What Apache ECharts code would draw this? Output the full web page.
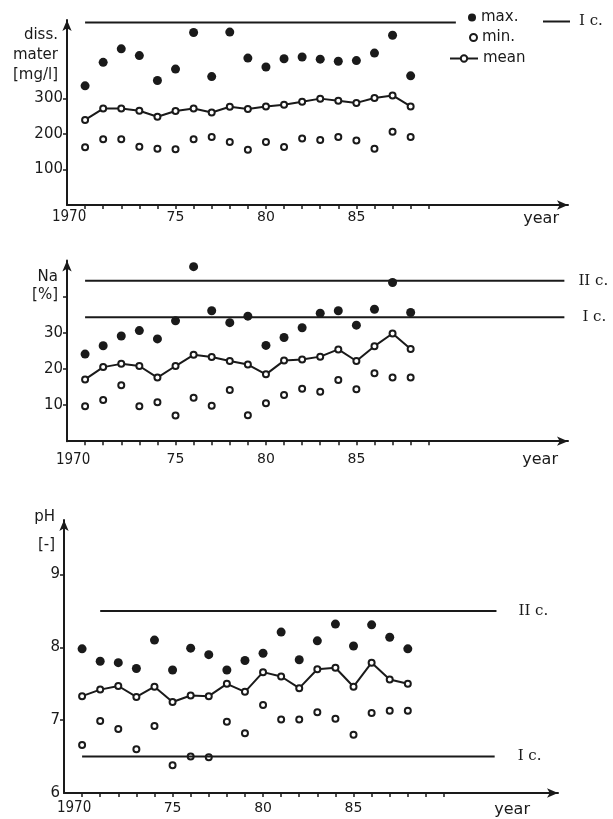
<!DOCTYPE html>
<html>
<head>
<meta charset="utf-8">
<script src="https://cdn.jsdelivr.net/npm/echarts@6/dist/echarts.min.js"></script>
<style>
  html, body { margin: 0; padding: 0; background: #fff; }
  #chart { width: 613px; height: 819px; }
</style>
</head>
<body>
<div id="chart"></div>
<script>
// data (1970-1988)
var years = [1970, 1971, 1972, 1973, 1974, 1975, 1976, 1977, 1978, 1979,
             1980, 1981, 1982, 1983, 1984, 1985, 1986, 1987, 1988];

var dissMax  = [335, 401, 439, 420, 350, 382, 485, 361, 486, 413, 388, 411, 416, 410, 404, 406, 427, 477, 363];
var dissMin  = [162, 185, 185, 164, 158, 157, 185, 191, 177, 155, 177, 163, 187, 183, 191, 181, 158, 206, 191];
var dissMean = [239, 271, 271, 265, 248, 264, 271, 260, 276, 270, 277, 282, 290, 299, 293, 287, 301, 308, 277];

var naMax  = [24.1, 26.4, 29.1, 30.6, 28.3, 33.3, 48.3, 36.1, 32.8, 34.6, 26.5, 28.7, 31.4, 35.4, 36.1, 32.1, 36.5, 43.9, 35.6];
var naMin  = [9.7, 11.4, 15.5, 9.7, 10.8, 7.1, 12.0, 9.8, 14.2, 7.2, 10.5, 12.8, 14.5, 13.7, 16.9, 14.4, 18.8, 17.6, 17.6];
var naMean = [17.1, 20.5, 21.4, 20.8, 17.6, 20.8, 23.9, 23.3, 22.2, 21.2, 18.5, 22.3, 22.6, 23.4, 25.4, 22.2, 26.3, 29.8, 25.5];

var phMax  = [7.98, 7.81, 7.79, 7.71, 8.10, 7.69, 7.99, 7.90, 7.69, 7.82, 7.92, 8.21, 7.83, 8.09, 8.32, 8.02, 8.31, 8.14, 7.98];
var phMin  = [6.66, 6.99, 6.88, 6.60, 6.92, 6.38, 6.50, 6.49, 6.98, 6.82, 7.21, 7.01, 7.01, 7.11, 7.02, 6.80, 7.10, 7.13, 7.13];
var phMean = [7.33, 7.42, 7.47, 7.32, 7.46, 7.25, 7.34, 7.33, 7.50, 7.39, 7.66, 7.60, 7.44, 7.70, 7.72, 7.46, 7.79, 7.56, 7.50];

// limit (class) values and the year span each line covers
var dissLimitI = 513;   var dissSpanI = [1970, 1990.5];
var naLimitI = 34.3;    var naSpanI = [1970, 1996.5];
var naLimitII = 44.4;   var naSpanII = [1970, 1996.5];
var phLimitI = 6.5;     var phSpanI = [1970, 1992.8];
var phLimitII = 8.5;    var phSpanII = [1971, 1992.9];

// tick labels
var xTickYears = [1970, 1971, 1972, 1973, 1974, 1975, 1976, 1977, 1978, 1979,
                  1980, 1981, 1982, 1983, 1984, 1985, 1986, 1987, 1988, 1989];
var xLabelYears = [1970, 1975, 1980, 1985];
var dissTicks = [100, 200, 300];
var naLabels = [10, 20, 30];
var naTicks = [10, 20, 30, 40];
var phLabels = [6, 7, 8, 9];
var phTicks = [7, 8, 9];

var ink = '#1a1a1a';
var numFont = '"DejaVu Sans", sans-serif';
var narrowFont = '"DejaVu Sans Condensed", "Liberation Sans Narrow", "DejaVu Sans", sans-serif';
var textFont = '"DejaVu Sans", sans-serif';
var serifFont = '"DejaVu Serif", serif';

function pairs(vals) {
    return years.map(function (y, i) { return [y, vals[i]]; });
}

function xAxisFor(gridIndex, max, labelMargin, firstShift, nameGap, namePad, tickYears) {
    return {
        type: 'value', gridIndex: gridIndex, min: 1969, max: max,
        name: 'year', nameLocation: 'end', nameGap: nameGap,
        nameTextStyle: { fontFamily: textFont, fontSize: 16, color: ink, align: 'right',
                         verticalAlign: 'top', padding: [namePad, 0, 0, 0] },
        axisLine: { show: true, onZero: false, symbol: ['none', 'arrow'], symbolSize: [7, 11],
                    lineStyle: { color: ink, width: 2 } },
        axisTick: { show: true, customValues: tickYears, length: 4, lineStyle: { color: ink, width: 1.5 } },
        axisLabel: {
            customValues: xLabelYears, margin: labelMargin,
            fontFamily: numFont, fontSize: 14, color: ink,
            formatter: function (v) { return v === 1970 ? '{first|1970}' : String(v).slice(2); },
            rich: { first: { fontFamily: narrowFont, fontSize: 15, color: ink, padding: [0, firstShift * 2, 0, 0] } }
        },
        splitLine: { show: false }
    };
}

function yAxisFor(gridIndex, min, max, labels, ticks, name, nameGap, lineHeight) {
    return {
        type: 'value', gridIndex: gridIndex, min: min, max: max,
        name: name, nameLocation: 'end', nameGap: nameGap,
        nameTextStyle: { fontFamily: textFont, fontSize: 15, color: ink, align: 'right',
                         verticalAlign: 'top', lineHeight: lineHeight, padding: [0, 9, 0, 0] },
        axisLine: { show: true, onZero: false, symbol: ['none', 'arrow'], symbolSize: [7, 11],
                    lineStyle: { color: ink, width: 2 } },
        axisTick: { show: true, customValues: ticks, length: 4, lineStyle: { color: ink, width: 1.5 } },
        axisLabel: { customValues: labels, margin: 4, fontFamily: numFont, fontSize: 15, color: ink },
        splitLine: { show: false }
    };
}

function dataSeries(idx, maxV, minV, meanV) {
    return [
        { name: 'max.', type: 'scatter', xAxisIndex: idx, yAxisIndex: idx, data: pairs(maxV),
          symbol: 'circle', symbolSize: 9, itemStyle: { color: ink, opacity: 1 } },
        { name: 'min.', type: 'scatter', xAxisIndex: idx, yAxisIndex: idx, data: pairs(minV),
          symbol: 'emptyCircle', symbolSize: 6, itemStyle: { color: ink, borderWidth: 2, opacity: 1 } },
        { name: 'mean', type: 'line', xAxisIndex: idx, yAxisIndex: idx, data: pairs(meanV),
          symbol: 'emptyCircle', symbolSize: 6, showSymbol: true,
          lineStyle: { color: ink, width: 2 }, itemStyle: { color: ink, borderWidth: 2 } }
    ];
}

function limitLine(idx, name, label, value, span, distance) {
    return {
        name: name, type: 'line', xAxisIndex: idx, yAxisIndex: idx,
        data: [[span[0], value], [span[1], value]],
        symbol: 'none', silent: true,
        itemStyle: { color: ink },
        lineStyle: { color: ink, width: 2 },
        endLabel: label ? { show: true, formatter: label, distance: distance,
                            fontFamily: serifFont, fontSize: 15, color: ink } : { show: false }
    };
}

var chartDom = document.getElementById('chart');
var myChart = echarts.init(chartDom, null, { renderer: 'canvas' });

var legendText = { fontFamily: textFont, fontSize: 15, color: ink };

var option = {
    animation: false,
    backgroundColor: '#fff',
    grid: [
        { left: 67, top: 20, width: 501, height: 185 },
        { left: 67, top: 260.5, width: 501, height: 180.7 },
        { left: 64, top: 520, width: 494, height: 273 }
    ],
    xAxis: [
        xAxisFor(0, 1996.7, 5, 16, -9, 6, xTickYears),
        xAxisFor(1, 1996.7, 11, 12, -10, 11, xTickYears),
        xAxisFor(2, 1996.3, 8, 8, -28, 9, xTickYears.concat([1990]))
    ],
    yAxis: [
        yAxisFor(0, 0, 520, dissTicks, dissTicks, 'diss.\nmater\n[mg/l]', -5, 20),
        yAxisFor(1, 0, 50, naLabels, naTicks, 'Na\n[%]', -8, 18),
        yAxisFor(2, 6, 9.75, phLabels, phTicks, 'pH\n[-]', 17, 28)
    ],
    legend: [
        { data: ['max.'], left: 468, top: 10, padding: 0, itemWidth: 8, itemHeight: 8, textStyle: legendText },
        { data: ['min.'], left: 469, top: 30, padding: 0, itemWidth: 7, itemHeight: 7, textStyle: legendText },
        { data: ['mean'], left: 449, top: 51, padding: 0, itemWidth: 28, itemHeight: 8, textStyle: legendText },
        { data: [{ name: 'I c.', icon: 'rect' }], left: 543, top: 14, padding: 0, itemWidth: 27, itemHeight: 2,
          itemGap: 0, textStyle: { fontFamily: serifFont, fontSize: 15, color: ink, padding: [0, 0, 6, 4] } }
    ],
    series: [].concat(
        dataSeries(0, dissMax, dissMin, dissMean),
        [limitLine(0, 'I c.', null, dissLimitI, dissSpanI, 0)],
        dataSeries(1, naMax, naMin, naMean),
        [limitLine(1, 'Na I c.', 'I c.', naLimitI, naSpanI, 18),
         limitLine(1, 'Na II c.', 'II c.', naLimitII, naSpanII, 14)],
        dataSeries(2, phMax, phMin, phMean),
        [limitLine(2, 'pH I c.', 'I c.', phLimitI, phSpanI, 23),
         limitLine(2, 'pH II c.', 'II c.', phLimitII, phSpanII, 22)]
    )
};

option && myChart.setOption(option);

window.addEventListener('resize', function () {
    myChart.resize();
});
</script>
</body>
</html>
